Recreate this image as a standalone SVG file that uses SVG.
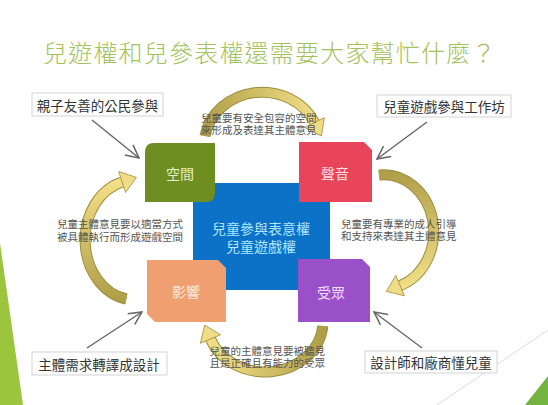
<svg xmlns="http://www.w3.org/2000/svg" width="548" height="405" viewBox="0 0 548 405">
<style>
.t{font-family:"Noto Sans CJK TC","Noto Sans CJK SC",sans-serif;}
.title{font-size:24px;fill:#a3c25c;letter-spacing:1.2px;font-weight:300;}
.box{fill:#fff;stroke:#c8c8c8;stroke-width:0.8;}
.lbl{font-size:13.5px;fill:#333;text-anchor:middle;dominant-baseline:central;}
.ann{font-size:10.5px;fill:#555;}
.nt{font-size:14px;text-anchor:middle;dominant-baseline:central;}
.band-o{fill:none;stroke:#9c8c3c;stroke-width:11;}
.head{stroke:#9c8c3c;stroke-width:0.8;stroke-linejoin:miter;}
.gl{stroke:#666;stroke-width:1.4;fill:none;}
</style>
<defs>
<marker id="ga" viewBox="0 0 14 14" refX="13" refY="7" markerWidth="15" markerHeight="15" markerUnits="userSpaceOnUse" orient="auto">
<path d="M1,1 L13,7 L1,13" fill="none" stroke="#666" stroke-width="1.4"/>
</marker>
<linearGradient id="gTop" gradientUnits="userSpaceOnUse" x1="205" y1="136" x2="320" y2="125"><stop offset="0" stop-color="#b09f48"/><stop offset="1" stop-color="#f2df88"/></linearGradient>
<linearGradient id="gRight" gradientUnits="userSpaceOnUse" x1="380" y1="175" x2="395" y2="290"><stop offset="0" stop-color="#b09f48"/><stop offset="1" stop-color="#f2df88"/></linearGradient>
<linearGradient id="gBot" gradientUnits="userSpaceOnUse" x1="322" y1="326" x2="210" y2="335"><stop offset="0" stop-color="#b09f48"/><stop offset="1" stop-color="#f2df88"/></linearGradient>
<linearGradient id="gLeft" gradientUnits="userSpaceOnUse" x1="126" y1="299" x2="125" y2="182"><stop offset="0" stop-color="#b09f48"/><stop offset="1" stop-color="#f2df88"/></linearGradient>
</defs>
<rect width="548" height="405" fill="#fff"/>
<polygon points="0,243 23,405 0,405" fill="#9bc53d"/>
<line x1="437" y1="405" x2="548" y2="330" stroke="#dcdcdc" stroke-width="1"/>
<polygon points="525,405 548,376 548,405" fill="#74b340"/>
<text class="t title" x="43" y="62">兒遊權和兒參表權還需要大家幫忙什麼？</text>

<g id="cycle-arrows">
<path class="band-o" d="M205,136 A58,53 0 0 1 314.6,122.6"/>
<path d="M205,136 A58,53 0 0 1 314.6,122.6" fill="none" stroke="url(#gTop)" stroke-width="9"/>
<polygon class="head" points="304.8,127.6 324.4,117.6 321.4,136" fill="#f0dc84"/>
<path class="band-o" d="M379,175 A50,57 0 0 1 400.1,285.6"/>
<path d="M379,175 A50,57 0 0 1 400.1,285.6" fill="none" stroke="url(#gRight)" stroke-width="9"/>
<polygon class="head" points="395.9,275.4 404.3,295.8 386.3,291.3" fill="#f0dc84"/>
<path class="band-o" d="M322.8,326 A58,50 0 0 1 210.5,339"/>
<path d="M322.8,326 A58,50 0 0 1 210.5,339" fill="none" stroke="url(#gBot)" stroke-width="9"/>
<polygon class="head" points="220.6,334.7 200.4,343.3 204.7,325.2" fill="#f0dc84"/>
<path class="band-o" d="M126.3,299 A50,60 0 0 1 122.1,182"/>
<path d="M126.3,299 A50,60 0 0 1 122.1,182" fill="none" stroke="url(#gLeft)" stroke-width="9"/>
<polygon class="head" points="125.5,192.5 118.7,171.5 136.4,177.4" fill="#f0dc84"/>
</g>

<g id="connectors">
<line class="gl" x1="92" y1="120" x2="139" y2="158" marker-end="url(#ga)"/>
<line class="gl" x1="427" y1="122" x2="377" y2="159" marker-end="url(#ga)"/>
<line class="gl" x1="87" y1="348" x2="142" y2="312" marker-end="url(#ga)"/>
<line class="gl" x1="422" y1="348" x2="374" y2="312" marker-end="url(#ga)"/>
</g>

<g id="annotations" class="t ann">
<text x="201" y="121.5">兒童要有安全包容的空間</text>
<text x="201" y="133.5">來形成及表達其主體意見</text>
<text x="341" y="227.5">兒童要有專業的成人引導</text>
<text x="341" y="240">和支持來表達其主體意見</text>
<text x="57" y="228">兒童主體意見要以適當方式</text>
<text x="57" y="240.5">被具體執行而形成遊戲空間</text>
<text x="209.5" y="355">兒童的主體意見要被聽見</text>
<text x="209.5" y="367">且是正確且有能力的受眾</text>
</g>

<g id="center">
<rect x="193" y="183" width="137" height="107" fill="#0b72c8"/>
<text class="t nt" x="261" y="228" fill="#aee6fb">兒童參與表意權</text>
<text class="t nt" x="261" y="246" fill="#aee6fb">兒童遊戲權</text>
</g>
<g id="space">
<path d="M154,143 H215 V193 Q215,202 206,202 H145 V152 Q145,143 154,143 Z" fill="#6e8e22"/>
<text class="t nt" x="180" y="173" fill="#e4efc4">空間</text>
</g>
<g id="voice">
<path d="M299,142 H364 L372,150 V202 H299 Z" fill="#e8445a"/>
<text class="t nt" x="335" y="173" fill="#fcdbe2">聲音</text>
</g>
<g id="influence">
<path d="M147,260 H218 L226,268 V322 H155 L147,314 Z" fill="#f0a070"/>
<text class="t nt" x="186" y="291" fill="#fde9dd">影響</text>
</g>
<g id="audience">
<path d="M298,259 H362 L370,267 V322 H298 Z" fill="#9a50c8"/>
<text class="t nt" x="331" y="292" fill="#f0dcf9">受眾</text>
</g>

<g id="label-tl"><rect class="box" x="32" y="93" width="131" height="23"/><text class="t lbl" x="97.5" y="104.5">親子友善的公民參與</text></g>
<g id="label-tr"><rect class="box" x="377" y="95" width="134" height="22"/><text class="t lbl" x="444" y="106">兒童遊戲參與工作坊</text></g>
<g id="label-bl"><rect class="box" x="32" y="352" width="135" height="23"/><text class="t lbl" x="99" y="363.5">主體需求轉譯成設計</text></g>
<g id="label-br"><rect class="box" x="365" y="351" width="132" height="22"/><text class="t lbl" x="431" y="362">設計師和廠商懂兒童</text></g>
</svg>
